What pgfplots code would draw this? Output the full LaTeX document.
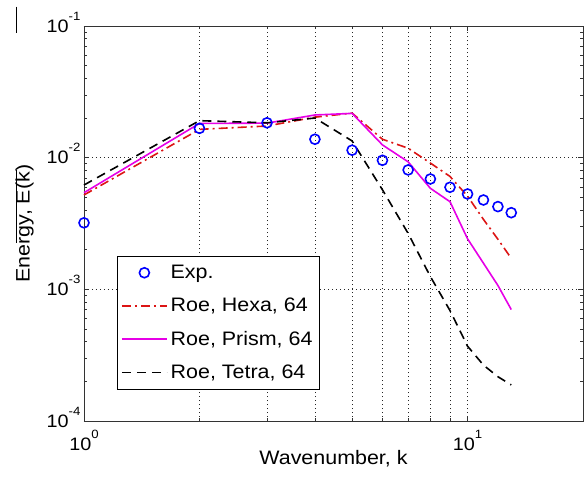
\documentclass[border=0pt]{standalone}
\usepackage{pgfplots}
\pgfplotsset{compat=1.18}
\usepackage{fontspec}
\setmainfont[FakeStretch=1.1]{Liberation Sans}
\definecolor{mred}{RGB}{220,20,20}
\definecolor{mmag}{RGB}{230,0,230}
\definecolor{mblue}{RGB}{0,0,255}
\newcommand\supx[1]{\smash{\raisebox{12bp}{\fontsize{12bp}{12bp}\selectfont #1}}}
\begin{document}
\begin{tikzpicture}
\useasboundingbox (-84bp,-58bp) rectangle (504bp,421bp);
\begin{axis}[
  at={(0,0)}, anchor=south west,
  scale only axis, width=499bp, height=395bp,
  xmode=log, ymode=log,
  log basis x=10, log basis y=10,
  xmin=1, xmax=20, ymin=1e-4, ymax=1e-1,
  xtick={1,10}, minor xtick={2,3,4,5,6,7,8,9,20},
  ytick={1e-4,1e-3,1e-2,1e-1},
  minor ytick={2e-4,3e-4,4e-4,5e-4,6e-4,7e-4,8e-4,9e-4,2e-3,3e-3,4e-3,5e-3,6e-3,7e-3,8e-3,9e-3,2e-2,3e-2,4e-2,5e-2,6e-2,7e-2,8e-2,9e-2},
  clip=false,
  axis line style={line width=0.8bp, black!80},
  every tick/.style={line width=0.7bp, black!80},
  major tick length=5bp, minor tick length=3bp,
  tick align=inside,
  xmajorgrids=true, xminorgrids=true, ymajorgrids=true, yminorgrids=false,
  grid style={dash pattern=on 1bp off 3bp, line width=0.7bp, black!85},
  minor grid style={dash pattern=on 1bp off 3bp, line width=0.7bp, black!85},
  xticklabel={10\supx{\pgfmathparse{int(round(\tick))}\pgfmathresult}},
  yticklabel={10\supx{\pgfmathparse{int(round(\tick))}\pgfmathresult}},
  tick label style={font=\fontsize{18bp}{22bp}\selectfont},
  xticklabel style={anchor=north, yshift=-13bp},
  yticklabel style={anchor=east},
  xlabel={Wavenumber, k},
  ylabel={Energy, E(k)},
  label style={font=\fontsize{19.5bp}{24bp}\selectfont},
  xlabel style={at={(axis description cs:0.5,-0.1089)}, anchor=base},
  ylabel style={at={(axis description cs:-0.1092,0.5)}, anchor=base},
  legend cell align=left,
  legend image code/.code={\draw[mark repeat=2,mark phase=2,#1] plot coordinates {(0bp,0bp)(22.5bp,0bp)(45bp,0bp)};},
  legend style={at={(axis description cs:0.0655,0.418)}, anchor=north west,
    draw=black, line width=0.8bp, fill=white,
    font=\fontsize{19.5bp}{24bp}\selectfont,
    inner xsep=4bp, inner ysep=8bp, row sep=16bp,
    nodes={inner xsep=3bp, inner ysep=1bp}},
]
\addplot[only marks, mark=o, mark size=5bp, mblue, mark options={line width=1.6bp, solid}]
 coordinates {(1,0.0032)(2,0.0167)(3,0.0184)(4,0.0138)(5,0.0114)(6,0.00955)(7,0.00807)(8,0.00689)(9,0.00596)(10,0.0053)(11,0.00477)(12,0.00425)(13,0.00382)};
\addlegendentry{Exp.}
\addplot[mred, line width=1.6bp, dash pattern=on 9bp off 4bp on 2bp off 4bp, mark=none]
 coordinates {(1,0.00521)(2,0.0164)(3,0.0174)(4,0.0203)(5,0.0218)(6,0.0138)(7,0.0118)(8,0.0091)(9,0.0072)(10,0.0051)(11,0.0034)(12,0.0024)(13,0.00172)};
\addlegendentry{Roe, Hexa, 64}
\addplot[mmag, line width=1.6bp, solid, mark=none]
 coordinates {(1,0.00542)(2,0.0182)(3,0.0183)(4,0.0211)(5,0.0217)(6,0.0125)(7,0.0093)(8,0.00585)(9,0.00463)(10,0.00242)(11,0.00158)(12,0.00107)(13,0.000702)};
\addlegendentry{Roe, Prism, 64}
\addplot[black, line width=1.6bp, dash pattern=on 9bp off 6bp, mark=none]
 coordinates {(1,0.0062)(2,0.0191)(3,0.0184)(4,0.0200)(5,0.0134)(6,0.0057)(7,0.00266)(8,0.00125)(9,0.00069)(10,0.00037)(11,0.000266)(12,0.000217)(13,0.000188)};
\addlegendentry{Roe, Tetra, 64}
\draw[line width=0.8bp] (axis description cs:-0.1349,0.6354) -- (axis description cs:-0.1349,0.4506);
\draw[line width=0.8bp] (axis description cs:-0.1349,1.0489) -- (axis description cs:-0.1349,0.9823);
\end{axis}
\end{tikzpicture}
\end{document}
